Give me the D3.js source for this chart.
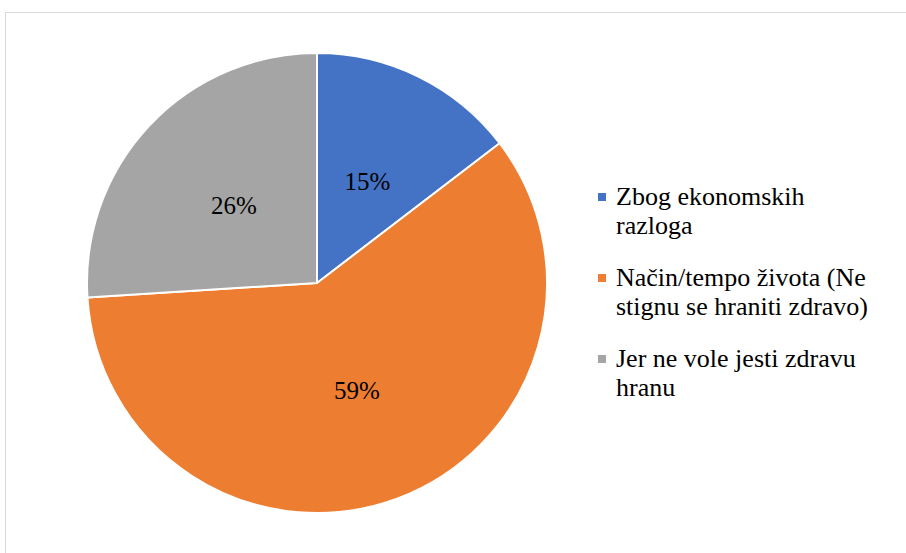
<!DOCTYPE html>
<html>
<head>
<meta charset="utf-8">
<script src="https://cdn.jsdelivr.net/npm/d3@7"></script>
<style>
  body { margin: 0; background: #fff; }
  svg { display: block; }
  text { font-family: "Liberation Serif", "Times New Roman", Times, "DejaVu Serif", serif; }
</style>
</head>
<body>
<script>
// data
var categories = [
  ["Zbog ekonomskih", "razloga"],
  ["Način/tempo života (Ne", "stignu se hraniti zdravo)"],
  ["Jer ne vole jesti zdravu", "hranu"]
];
var values = [14.6, 59.4, 26.0];
var colors = ["#4472C4", "#ED7D31", "#A5A5A5"];

var w = 906;
var h = 553;
var cx = 317, cy = 283, r = 230;

var svg = d3.select("body")
    .append("svg")
    .attr("width", w)
    .attr("height", h);

// chart frame (runs off right and bottom edge)
svg.append("rect")
    .attr("x", 5.5).attr("y", 12.5)
    .attr("width", 920).attr("height", 560)
    .attr("fill", "white")
    .attr("stroke", "#d9d9d9")
    .attr("stroke-width", 1);

var pie = d3.pie().sort(null).value(function(d){ return d; });
var arcs = pie(values);

var arc = d3.arc().innerRadius(0).outerRadius(r);
var labelArc = d3.arc().innerRadius(114).outerRadius(114);

var g = svg.append("g").attr("transform", "translate(" + cx + "," + cy + ")");

g.selectAll("path")
    .data(arcs)
    .enter()
    .append("path")
    .attr("d", arc)
    .attr("fill", function(d,i){ return colors[i]; })
    .attr("stroke", "white")
    .attr("stroke-width", 2)
    .attr("stroke-linejoin", "round");

g.selectAll("text")
    .data(arcs)
    .enter()
    .append("text")
    .text(function(d){ return Math.round(d.data) + "%"; })
    .attr("transform", function(d){ return "translate(" + labelArc.centroid(d) + ")"; })
    .attr("dy", "0.35em")
    .attr("text-anchor", "middle")
    .style("font-size", "25px")
    .attr("fill", "#000");

// legend
var legend = svg.append("g").attr("transform", "translate(598,0)");
var itemY = [205, 286, 367];
var lineH = 29;

var items = legend.selectAll("g.item")
    .data(categories)
    .enter()
    .append("g")
    .attr("class", "item");

items.append("rect")
    .attr("x", 0)
    .attr("y", function(d,i){ return itemY[i] - 12; })
    .attr("width", 8).attr("height", 8)
    .attr("fill", function(d,i){ return colors[i]; });

items.each(function(d,i){
  var t = d3.select(this).append("text")
      .style("font-size", "26px")
      .attr("fill", "#000");
  d.forEach(function(line, j){
    t.append("tspan")
      .attr("x", 18)
      .attr("y", itemY[i] + j * lineH)
      .text(line);
  });
});
</script>
</body>
</html>
